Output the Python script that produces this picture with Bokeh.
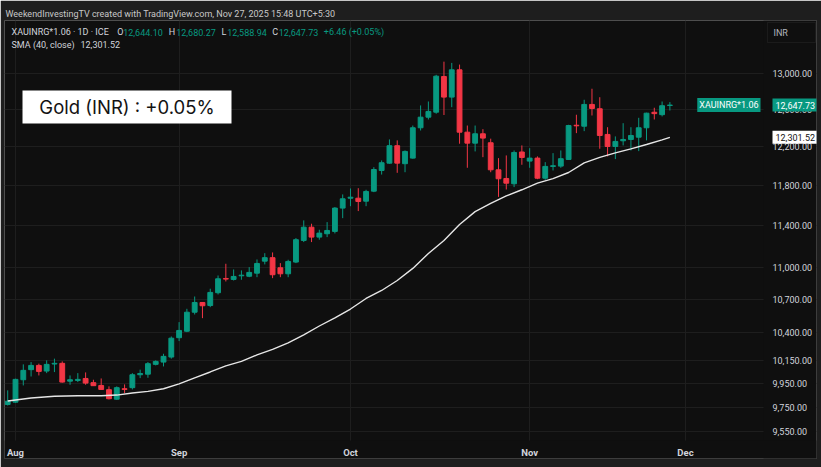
from bokeh.plotting import figure
from bokeh.models import (ColumnDataSource, Range1d, FixedTicker, NumeralTickFormatter,
                          Label, BoxAnnotation)
from bokeh.embed import file_html
from bokeh.resources import INLINE

# ---------------- data ----------------
bar_index = list(range(-1, 85))   # trading-day index, 0 = 1 Aug 2025
opens = [9773, 9792, 9983, 10070, 10107, 10058, 10119, 10125, 9971, 9977,
         9994, 9958, 9934, 9898, 9817, 9906, 9915, 10026, 10031, 10116,
         10136, 10180, 10351, 10409, 10581, 10670, 10642, 10760, 10893, 10884,
         10918, 10914, 10943, 11057, 11090, 10994, 10937, 11048, 11256, 11385,
         11288, 11321, 11344, 11574, 11673, 11673, 11643, 11744, 11955, 12031,
         12213, 12025, 12083, 12403, 12517, 12571, 12963, 12735, 13038, 12356,
         12240, 12339, 12244, 11962, 11873, 11819, 12147, 12052, 12083, 11876,
         11997, 12000, 12069, 12430, 12420, 12655, 12608, 12332, 12205, 12265,
         12279, 12303, 12403, 12570, 12544, 12644.10]
highs = [9892, 9992, 10116, 10136, 10122, 10151, 10166, 10142, 10020, 10040,
         10046, 9983, 9994, 9926, 9926, 9943, 10040, 10070, 10136, 10151,
         10209, 10362, 10491, 10612, 10725, 10672, 10797, 10921, 11032, 10978,
         10969, 11000, 11073, 11133, 11140, 11038, 11070, 11279, 11452, 11419,
         11360, 11435, 11584, 11711, 11771, 11774, 11758, 11989, 12059, 12279,
         12269, 12163, 12427, 12644, 12687, 12982, 13130, 13116, 13097, 12427,
         12427, 12388, 12287, 12083, 12111, 12163, 12216, 12187, 12101, 12041,
         12135, 12163, 12435, 12543, 12706, 12827, 12734, 12409, 12311, 12452,
         12409, 12510, 12565, 12619, 12687, 12680.27]
lows = [9764, 9787, 9934, 10011, 10020, 10040, 10049, 9958, 9940, 9963,
        9940, 9932, 9900, 9815, 9812, 9868, 9900, 9997, 10000, 10107,
        10098, 10166, 10321, 10401, 10560, 10527, 10627, 10744, 10865, 10874,
        10881, 10905, 10905, 11026, 10896, 10905, 10905, 11038, 11240, 11240,
        11263, 11288, 11324, 11474, 11593, 11544, 11593, 11734, 11913, 12025,
        11931, 11937, 12077, 12374, 12492, 12554, 12540, 12625, 12234, 11983,
        12153, 12093, 11937, 11686, 11761, 11785, 12014, 11983, 11866, 11859,
        11955, 11983, 12065, 12346, 12367, 12535, 12181, 12101, 12073, 12216,
        12163, 12156, 12269, 12492, 12525, 12588.94]
closes = [9800, 9986, 10064, 10107, 10055, 10116, 10125, 9963, 9983, 9986,
          9954, 9932, 9900, 9821, 9915, 9900, 10026, 10037, 10122, 10142,
          10186, 10347, 10416, 10581, 10670, 10640, 10763, 10890, 10887, 10912,
          10924, 10950, 11035, 11090, 10928, 10937, 11054, 11263, 11385, 11288,
          11327, 11353, 11574, 11667, 11683, 11640, 11741, 11965, 12035, 12213,
          12031, 12153, 12403, 12517, 12579, 12967, 12735, 13038, 12356, 12240,
          12339, 12293, 11962, 11870, 11825, 12142, 12090, 12083, 11876, 11997,
          12004, 12077, 12427, 12424, 12655, 12611, 12321, 12205, 12258, 12279,
          12321, 12403, 12560, 12555, 12641, 12647.73]

sma_index = [-1, 2, 5, 8, 11, 13, 15, 17, 19, 21, 23, 25, 27, 29, 31, 33, 35, 37,
             39, 41, 43, 45, 47, 49, 51, 53, 55, 57, 59, 61, 63, 65, 67, 69, 71,
             73, 75, 77, 79, 81, 83, 84]
sma_values = [9802, 9827, 9842, 9846, 9846, 9852, 9869, 9883, 9906, 9947, 9999,
              10050, 10103, 10142, 10199, 10247, 10305, 10376, 10456, 10530, 10610,
              10707, 10781, 10874, 10988, 11130, 11256, 11412, 11539, 11620, 11696,
              11758, 11825, 11872, 11934, 12033, 12090, 12137, 12179, 12226, 12274,
              12301.52]

price_ticks = [9550, 9750, 9950, 10150, 10400, 10700, 11000, 11400, 11800, 12200,
               12600, 13000]
month_ticks = [0, 21, 43, 66, 86]
month_labels = ["Aug", "Sep", "Oct", "Nov", "Dec"]

symbol = "XAUINRG*1.06 · 1D · ICE"
tag_symbol = "XAUINRG*1.06"
change_abs = 6.46
change_pct = 0.05
title_text = "Gold (INR) : +0.05%"
header_text = "WeekendInvestingTV created with TradingView.com, Nov 27, 2025 15:48 UTC+5:30"

# ---------------- styling ----------------
UP = "#089981"
DOWN = "#f23645"
BG = "#0f0f0f"
FRAME = "#1e1e1e"
TXT = "#d1d4dc"
FONT = "Roboto"

colors = [UP if c >= o else DOWN for o, c in zip(opens, closes)]
src = ColumnDataSource(dict(
    x=bar_index, o=opens, h=highs, l=lows, c=closes,
    top=[max(o, c) for o, c in zip(opens, closes)],
    bot=[min(o, c) for o, c in zip(opens, closes)],
    col=colors,
))

FW, FH = 812, 438          # plot frame size (screen units below are frame-relative)
p = figure(frame_width=FW, frame_height=FH, output_backend="svg",
           toolbar_location=None, y_axis_type="log", y_axis_location="right",
           x_range=Range1d(-1.412, 102.82), y_range=Range1d(9328.1, 13603.9),
           min_border_left=4, min_border_top=20, min_border_right=5,
           min_border_bottom=9, background_fill_color=BG,
           border_fill_color=FRAME, outline_line_color=None)

# header
p.title.text = header_text
p.title.text_font = FONT
p.title.text_font_size = "9px"
p.title.text_font_style = "normal"
p.title.text_color = "#c8c8c8"
p.title.align = "left"
p.title.offset = 1
p.title.standoff = 4

p.xgrid.grid_line_color = "#1e1e1e"
p.ygrid.grid_line_color = "#1e1e1e"

# axis areas (cover the grid there, stay below the axis labels)
p.add_layout(BoxAnnotation(left=759, right=FW, bottom=0, top=FH,
                           left_units="screen", right_units="screen",
                           bottom_units="screen", top_units="screen",
                           fill_color=BG, fill_alpha=1, line_color=None,
                           level="underlay"))
p.add_layout(BoxAnnotation(left=0, right=FW, bottom=0, top=18,
                           left_units="screen", right_units="screen",
                           bottom_units="screen", top_units="screen",
                           fill_color=BG, fill_alpha=1, line_color=None,
                           level="underlay"))

p.segment(x0="x", y0="l", x1="x", y1="h", color="col", line_width=1, source=src)
p.vbar(x="x", width=0.62, top="top", bottom="bot", fill_color="col",
       line_color="col", line_width=1, source=src)
p.line(sma_index, sma_values, color="#e6e6e6", line_width=1.4)

# axes (labels drawn back inside the frame, like TradingView's scales)
ya = p.yaxis[0]
ya.ticker = FixedTicker(ticks=price_ticks)
ya.formatter = NumeralTickFormatter(format="0,0.00")
ya.axis_line_color = None
ya.major_tick_line_color = None
ya.minor_tick_line_color = None
ya.major_tick_out = 0
ya.major_label_standoff = -44
ya.major_label_text_font = FONT
ya.major_label_text_font_size = "9px"
ya.major_label_text_color = TXT

xa = p.xaxis[0]
xa.ticker = FixedTicker(ticks=month_ticks)
xa.major_label_overrides = {t: s for t, s in zip(month_ticks, month_labels)}
xa.axis_line_color = None
xa.major_tick_line_color = None
xa.minor_tick_line_color = None
xa.major_tick_out = 0
xa.major_label_standoff = -12
xa.major_label_text_font = FONT
xa.major_label_text_font_style = "bold"
xa.major_label_text_font_size = "9.5px"
xa.major_label_text_color = TXT


def lab(x, y, text, color=TXT, size="9px", align="left", **kw):
    p.add_layout(Label(x=x, y=y, x_units="screen", y_units="screen", text=text,
                       text_color=color, text_font=FONT, text_font_size=size,
                       text_align=align, text_baseline="middle", **kw))


# legend rows
o, h, l, c = opens[-1], highs[-1], lows[-1], closes[-1]
y1 = 426.3
lab(7, y1, symbol)
for xl, xv, letter, val in [(112.7, 118.7, "O", o), (164.3, 171.7, "H", h),
                             (217, 222.7, "L", l), (267.7, 274.3, "C", c)]:
    lab(xl, y1, letter)
    lab(xv, y1, f"{val:,.2f}", color=UP)
lab(319.3, y1, f"+{change_abs:.2f} (+{change_pct:.2f}%)", color=UP)
y2 = 413.7
lab(7, y2, "SMA (40, close)")
lab(76, y2, f"{sma_values[-1]:,.2f}")

# title box
p.add_layout(BoxAnnotation(left=18, right=227, bottom=335, top=368,
                           left_units="screen", right_units="screen",
                           bottom_units="screen", top_units="screen",
                           fill_color="white", fill_alpha=1, line_color=None))
p.add_layout(Label(x=122.5, y=351.5, x_units="screen", y_units="screen",
                   text=title_text, text_color="#131313", text_font="Inter",
                   text_font_size="18.5px", text_align="center",
                   text_baseline="middle"))

# INR button
p.add_layout(BoxAnnotation(left=763, right=811, bottom=416, top=436,
                           left_units="screen", right_units="screen",
                           bottom_units="screen", top_units="screen",
                           fill_color=BG, fill_alpha=1, line_color="#3a3a3a",
                           line_width=1))
lab(769, 426, "INR", color="#b2b5be")

# price tags on the right
p.add_layout(Label(x=756, y=c, x_units="screen", y_units="data", text=tag_symbol,
                   text_color="white", text_font=FONT, text_font_size="9px",
                   text_align="right", text_baseline="middle",
                   background_fill_color=UP, padding=2))
p.add_layout(Label(x=768, y=c, x_units="screen", y_units="data", text=f"{c:,.2f}",
                   text_color="white", text_font=FONT, text_font_size="9px",
                   text_align="left", text_baseline="middle",
                   background_fill_color=UP, padding=3))
p.add_layout(Label(x=768, y=sma_values[-1], x_units="screen", y_units="data",
                   text=f"{sma_values[-1]:,.2f}",
                   text_color="#131313", text_font=FONT, text_font_size="9px",
                   text_align="left", text_baseline="middle",
                   background_fill_color="white", padding=3))

open("out.html", "w").write(file_html(p, INLINE))
